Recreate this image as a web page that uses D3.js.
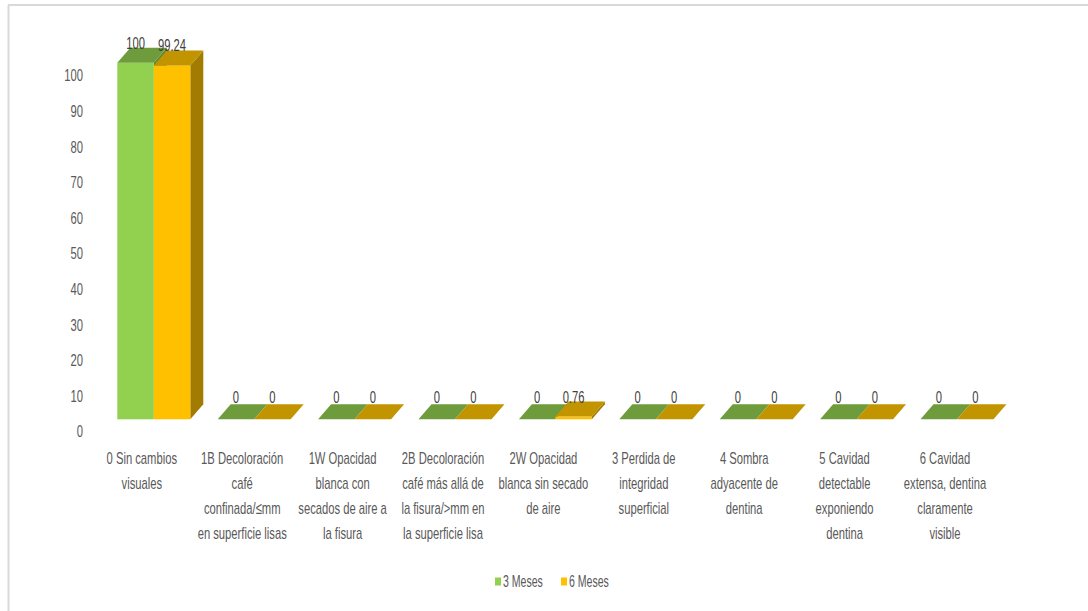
<!DOCTYPE html>
<html>
<head>
<meta charset="utf-8">
<script src="https://cdn.jsdelivr.net/npm/d3@7"></script>
<style>
  html, body { margin: 0; padding: 0; background: #fff; }
  svg { display: block; }
  text { font-family: "Liberation Sans", Arial, sans-serif; }
</style>
</head>
<body>
<svg id="chart" width="1088" height="611"></svg>
<script>
// ---- data ----
const categories = [
  ["0 Sin cambios", "visuales"],
  ["1B Decoloración", "café", "confinada/≤mm", "en superficie lisas"],
  ["1W Opacidad", "blanca con", "secados de aire a", "la fisura"],
  ["2B Decoloración", "café más allá de", "la fisura/>mm en", "la superficie lisa"],
  ["2W Opacidad", "blanca sin secado", "de aire"],
  ["3 Perdida de", "integridad", "superficial"],
  ["4 Sombra", "adyacente de", "dentina"],
  ["5 Cavidad", "detectable", "exponiendo", "dentina"],
  ["6 Cavidad", "extensa, dentina", "claramente", "visible"]
];
const seriesNames = ["3 Meses", "6 Meses"];
const meses3 = [100, 0, 0, 0, 0, 0, 0, 0, 0];
const meses6 = [99.24, 0, 0, 0, 0.76, 0, 0, 0, 0];
const yTicks = [0, 10, 20, 30, 40, 50, 60, 70, 80, 90, 100];

// ---- styles ----
const colors = {
  "3 Meses": { front: "#92D050", top: "#6E9C3C", side: "#5E8833" },
  "6 Meses": { front: "#FFC000", top: "#C29400", side: "#A27C00" }
};
const SX = 0.66;
const DX = 13, DY = -15;

const svg = d3.select("#chart");

// border
svg.append("line").attr("x1", 8).attr("x2", 1088).attr("y1", 5).attr("y2", 5)
  .attr("stroke", "#d9d9d9").attr("stroke-width", 2);
svg.append("line").attr("x1", 8.5).attr("x2", 8.5).attr("y1", 5).attr("y2", 611)
  .attr("stroke", "#d9d9d9").attr("stroke-width", 2);

// scales
const x = d3.scaleBand().domain(d3.range(categories.length))
  .range([103.6, 1007.2]).paddingInner(0.273).paddingOuter(0.1365);
const xs = d3.scaleBand().domain(seriesNames).range([0, x.bandwidth()]);
const yBar = d3.scaleLinear().domain([0, 100]).range([419.3, 62.7]);
const yLab = d3.scaleLinear().domain([0, 100]).range([431, 75]);

function sText(parent, tx, ty, str, opts) {
  const g = parent.append("g").attr("transform", `translate(${tx},${ty})`);
  const t = g.append("text").attr("transform", `scale(${opts.sx || SX},1)`)
    .attr("text-anchor", opts.anchor || "middle")
    .attr("dominant-baseline", opts.baseline || "auto")
    .attr("font-size", opts.size || 17)
    .attr("fill", opts.fill || "#595959")
    .text(str);
  return t;
}

// y axis labels via d3 axis
const yAxis = d3.axisLeft(yLab).tickValues(yTicks).tickSize(0).tickPadding(0);
const ax = svg.append("g").attr("transform", "translate(83,0)").call(yAxis);
ax.select(".domain").remove();
ax.selectAll("text")
  .attr("x", 0).attr("dy", "0.35em")
  .attr("transform", `scale(${SX},1)`)
  .attr("font-family", "Liberation Sans, Arial, sans-serif")
  .attr("font-size", 17).attr("fill", "#595959");

// bars (3D)
const series = [
  { name: "3 Meses", values: meses3 },
  { name: "6 Meses", values: meses6 }
];
const bars = svg.append("g");
categories.forEach((c, i) => {
  series.forEach(s => {
    const v = s.values[i];
    const x0 = x(i) + xs(s.name), w = xs.bandwidth();
    const yt = yBar(v), yb = yBar(0);
    const col = colors[s.name];
    // side
    bars.append("path")
      .attr("d", `M${x0 + w},${yt}L${x0 + w + DX},${yt + DY}L${x0 + w + DX},${yb + DY}L${x0 + w},${yb}Z`)
      .attr("fill", col.side);
    // front
    bars.append("rect").attr("x", x0).attr("y", yt).attr("width", w).attr("height", yb - yt)
      .attr("fill", col.front);
    // top
    bars.append("path")
      .attr("d", `M${x0},${yt}L${x0 + DX},${yt + DY}L${x0 + w + DX},${yt + DY}L${x0 + w},${yt}Z`)
      .attr("fill", col.top);
  });
});

// bar value labels
categories.forEach((c, i) => {
  series.forEach(s => {
    const v = s.values[i];
    const cx = x(i) + xs(s.name) + xs.bandwidth() / 2;
    sText(svg, cx, Math.min(yBar(v) + DY + 1, yBar(0) + DY - 1.5), String(v), { fill: "#404040", size: 17 });
  });
});

// category labels
categories.forEach((lines, i) => {
  const cx = x(i) + x.bandwidth() / 2 - 12;
  lines.forEach((ln, k) => {
    sText(svg, cx, 458 + k * 25, ln, { baseline: "central", size: 17 });
  });
});

// legend
const legendItems = [
  { name: "3 Meses", x: 495 },
  { name: "6 Meses", x: 561 }
];
legendItems.forEach(it => {
  svg.append("rect").attr("x", it.x).attr("y", 577.5).attr("width", 6).attr("height", 8)
    .attr("fill", colors[it.name].front);
  sText(svg, it.x + 8, 582, it.name, { anchor: "start", baseline: "central", size: 16 });
});
</script>
</body>
</html>
